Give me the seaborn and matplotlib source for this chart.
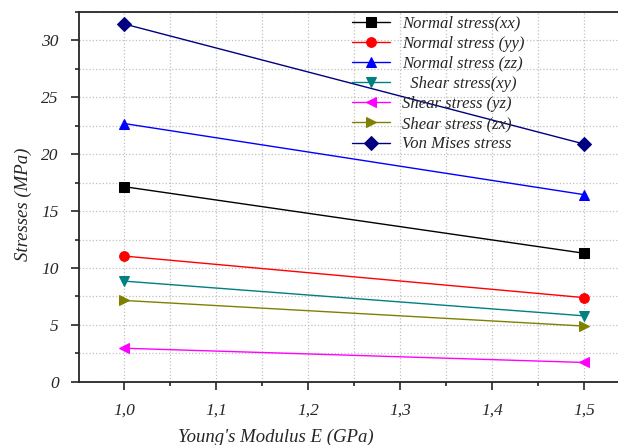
import numpy as np
import pandas as pd
import seaborn as sns
import matplotlib.pyplot as plt
from matplotlib.ticker import MultipleLocator, FuncFormatter

E = [1.0, 1.5]
normal_xx = [17.15, 11.3]
normal_yy = [11.05, 7.4]
normal_zz = [22.7, 16.45]
shear_xy = [8.85, 5.8]
shear_yz = [2.95, 1.7]
shear_zx = [7.15, 4.9]
von_mises = [31.45, 20.9]

labels = ["Normal stress(xx)", "Normal stress (yy)", "Normal stress (zz)",
          "  Shear stress(xy)", "Shear stress (yz)", "Shear stress (zx)",
          "Von Mises stress"]
series = [normal_xx, normal_yy, normal_zz, shear_xy, shear_yz, shear_zx, von_mises]
colors = ["black", "red", "blue", "#008080", "magenta", "#808000", "#000080"]
markers = ["s", "o", "^", "v", "<", ">", "D"]

sns.set_style("ticks")
plt.rcParams["font.family"] = ["Liberation Serif", "DejaVu Serif"]
plt.rcParams["font.style"] = "italic"

fig = plt.figure(figsize=(6.18, 4.45), dpi=100)
ax = fig.add_axes([0.128, 0.142, 0.872, 0.831])

for vals, lab, c, m in zip(series, labels, colors, markers):
    sns.lineplot(x=E, y=vals, color=c, marker=m, markersize=7, markeredgecolor=c,
                 linewidth=1, label=lab, ax=ax)

ax.set_xlim(0.951, 1.537)
ax.set_ylim(0, 32.5)
ax.xaxis.set_major_locator(MultipleLocator(0.1))
ax.xaxis.set_minor_locator(MultipleLocator(0.05))
ax.yaxis.set_major_locator(MultipleLocator(5))
ax.yaxis.set_minor_locator(MultipleLocator(2.5))
ax.xaxis.set_major_formatter(FuncFormatter(lambda v, p: f"{v:.1f}".replace(".", ",")))
ax.grid(True, which="both", linestyle=":", color="#c0c0c0", linewidth=0.9)
ax.tick_params(which="major", direction="out", length=6, width=1.2, labelsize=12.5)
ax.tick_params(which="minor", direction="out", length=3, width=1.2)
ax.tick_params(axis="x", pad=9)
ax.tick_params(axis="y", pad=8.5)
for s in ["left", "bottom", "top"]:
    ax.spines[s].set_linewidth(1.3)
ax.spines["right"].set_visible(False)

ax.set_xlabel("Young's Modulus E (GPa)", fontsize=13.5)
ax.xaxis.set_label_coords(0.365, -0.126)
ax.set_ylabel("Stresses (MPa)", fontsize=13.5)
ax.yaxis.set_label_coords(-0.088, 0.48)

leg = ax.legend(loc="upper left", bbox_to_anchor=(0.5, 1.0), frameon=False,
                fontsize=12, handlelength=2.3, labelspacing=0.25, borderaxespad=0.0,
                borderpad=0.2, handletextpad=0.7)
fig.savefig("out.png", dpi=100)
